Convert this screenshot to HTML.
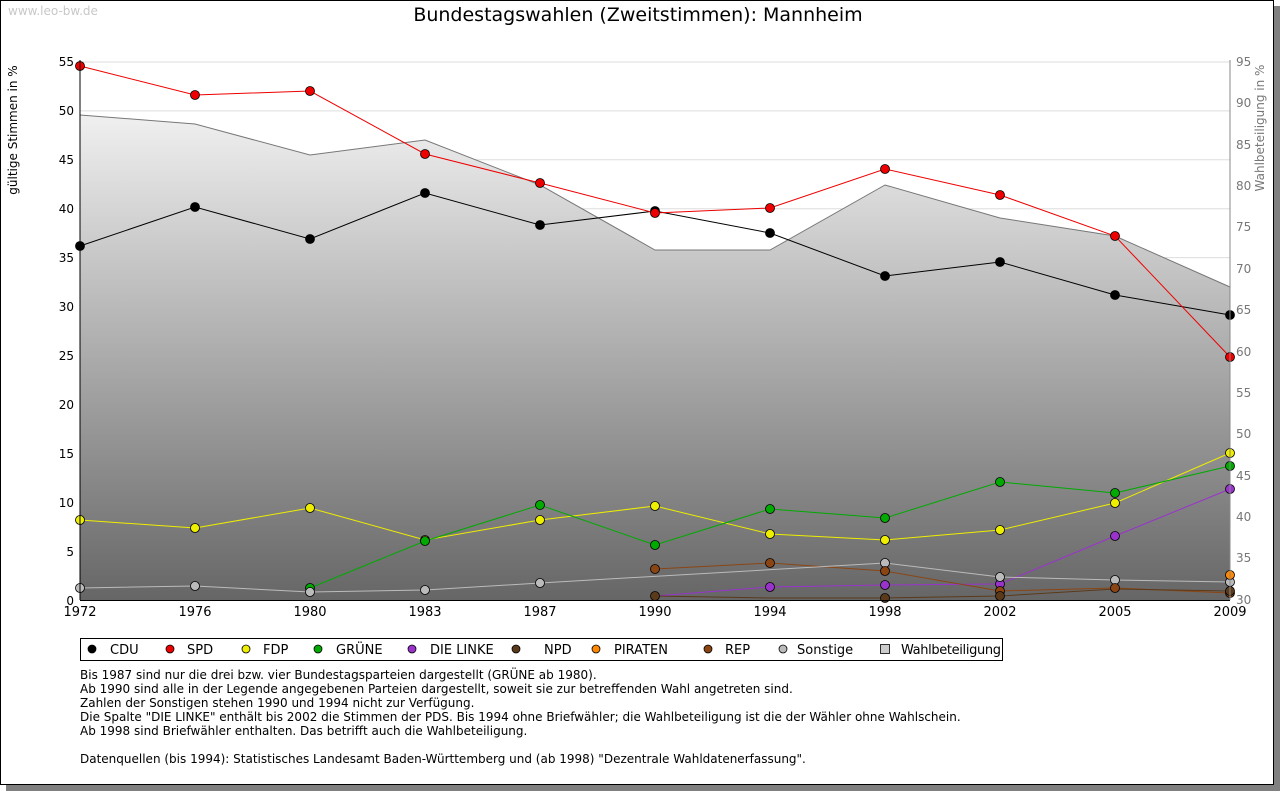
<!DOCTYPE html><html><head><meta charset="utf-8"><style>
body{margin:0;background:#fff;width:1280px;height:791px;overflow:hidden;font-family:"DejaVu Sans",sans-serif}
</style></head><body>
<svg width="1280" height="791" xmlns="http://www.w3.org/2000/svg" font-family="DejaVu Sans, sans-serif">
<defs><linearGradient id="g" x1="0" y1="62" x2="0" y2="600" gradientUnits="userSpaceOnUse"><stop offset="0" stop-color="#fff"/><stop offset="1" stop-color="#666"/></linearGradient></defs>
<rect x="6" y="6" width="1274" height="785" fill="#808080"/>
<rect x="0.5" y="0.5" width="1273" height="784" fill="#fff" stroke="#000"/>
<text x="8" y="15" font-size="12" fill="#c8c8c8">www.leo-bw.de</text>
<text x="638" y="21" font-size="19" text-anchor="middle">Bundestagswahlen (Zweitstimmen): Mannheim</text>
<g stroke="#ddd">
<line x1="80" y1="62" x2="1230" y2="62"/><line x1="80" y1="110.9" x2="1230" y2="110.9"/><line x1="80" y1="159.8" x2="1230" y2="159.8"/><line x1="80" y1="208.7" x2="1230" y2="208.7"/><line x1="80" y1="257.6" x2="1230" y2="257.6"/>
</g>
<polygon points="80,600 80,115 195,124 310,155 425,140 540,185 655,250 770,250 885,185 1000,218 1115,236 1230,287 1230,600" fill="url(#g)"/>
<polyline points="80,115 195,124 310,155 425,140 540,185 655,250 770,250 885,185 1000,218 1115,236 1230,287" fill="none" stroke="#777"/>
<g fill="none" stroke-width="1">
<polyline stroke="#000" points="80,246 195,207 310,239 425,193 540,225 655,211 770,233 885,276 1000,262 1115,295 1230,315"/>
<polyline stroke="#e00" points="80,66 195,95 310,91 425,154 540,183 655,213 770,208 885,169 1000,195 1115,236 1230,357"/>
<polyline stroke="#ee0" points="80,520 195,528 310,508 425,540 540,520 655,506 770,534 885,540 1000,530 1115,503 1230,453"/>
<polyline stroke="#0a0" points="310,588 425,541 540,505 655,545 770,509 885,518 1000,482 1115,493 1230,466"/>
<polyline stroke="#93c" points="655,596 770,587 885,585 1000,584 1115,536 1230,489"/>
<polyline stroke="#8b4513" points="655,569 770,563 885,571 1000,591 1115,588 1230,593"/>
<polyline stroke="#5a3a1a" points="655,596 770,598 885,598 1000,596 1115,589 1230,591"/>
<polyline stroke="#bbb" points="80,588 195,586 310,592 425,590 540,583 885,563 1000,577 1115,580 1230,582"/>
</g>
<g stroke="#000" stroke-width="0.8">
<g fill="#000"><circle cx="80" cy="246" r="4.5"/><circle cx="195" cy="207" r="4.5"/><circle cx="310" cy="239" r="4.5"/><circle cx="425" cy="193" r="4.5"/><circle cx="540" cy="225" r="4.5"/><circle cx="655" cy="211" r="4.5"/><circle cx="770" cy="233" r="4.5"/><circle cx="885" cy="276" r="4.5"/><circle cx="1000" cy="262" r="4.5"/><circle cx="1115" cy="295" r="4.5"/><circle cx="1230" cy="315" r="4.5"/></g>
<g fill="#e00"><circle cx="80" cy="66" r="4.5"/><circle cx="195" cy="95" r="4.5"/><circle cx="310" cy="91" r="4.5"/><circle cx="425" cy="154" r="4.5"/><circle cx="540" cy="183" r="4.5"/><circle cx="655" cy="213" r="4.5"/><circle cx="770" cy="208" r="4.5"/><circle cx="885" cy="169" r="4.5"/><circle cx="1000" cy="195" r="4.5"/><circle cx="1115" cy="236" r="4.5"/><circle cx="1230" cy="357" r="4.5"/></g>
<g fill="#ee0"><circle cx="80" cy="520" r="4.5"/><circle cx="195" cy="528" r="4.5"/><circle cx="310" cy="508" r="4.5"/><circle cx="425" cy="540" r="4.5"/><circle cx="540" cy="520" r="4.5"/><circle cx="655" cy="506" r="4.5"/><circle cx="770" cy="534" r="4.5"/><circle cx="885" cy="540" r="4.5"/><circle cx="1000" cy="530" r="4.5"/><circle cx="1115" cy="503" r="4.5"/><circle cx="1230" cy="453" r="4.5"/></g>
<g fill="#0a0"><circle cx="310" cy="588" r="4.5"/><circle cx="425" cy="541" r="4.5"/><circle cx="540" cy="505" r="4.5"/><circle cx="655" cy="545" r="4.5"/><circle cx="770" cy="509" r="4.5"/><circle cx="885" cy="518" r="4.5"/><circle cx="1000" cy="482" r="4.5"/><circle cx="1115" cy="493" r="4.5"/><circle cx="1230" cy="466" r="4.5"/></g>
<g fill="#93c"><circle cx="770" cy="587" r="4.5"/><circle cx="885" cy="585" r="4.5"/><circle cx="1000" cy="584" r="4.5"/><circle cx="1115" cy="536" r="4.5"/><circle cx="1230" cy="489" r="4.5"/></g>
<g fill="#bbb"><circle cx="80" cy="588" r="4.5"/><circle cx="195" cy="586" r="4.5"/><circle cx="310" cy="592" r="4.5"/><circle cx="425" cy="590" r="4.5"/><circle cx="540" cy="583" r="4.5"/><circle cx="885" cy="563" r="4.5"/><circle cx="1000" cy="577" r="4.5"/><circle cx="1115" cy="580" r="4.5"/><circle cx="1230" cy="582" r="4.5"/></g>
<g fill="#8b4513"><circle cx="655" cy="569" r="4.5"/><circle cx="770" cy="563" r="4.5"/><circle cx="885" cy="571" r="4.5"/><circle cx="1000" cy="591" r="4.5"/><circle cx="1115" cy="588" r="4.5"/><circle cx="1230" cy="593" r="4.5"/></g>
<g fill="#5a3a1a"><circle cx="655" cy="596" r="4.5"/><circle cx="885" cy="598" r="4.5"/><circle cx="1000" cy="596" r="4.5"/><circle cx="1230" cy="591" r="4.5"/></g>
<circle fill="#f80" cx="1230" cy="575" r="4.5"/>
</g>
<g stroke="#000"><line x1="80" y1="60" x2="80" y2="600"/><line x1="80" y1="600.5" x2="1230" y2="600.5"/></g>
<line x1="1230" y1="60" x2="1230" y2="600" stroke="#888"/>
<g font-size="12" text-anchor="end">
<text x="74" y="66">55</text><text x="74" y="115">50</text><text x="74" y="164">45</text><text x="74" y="213">40</text><text x="74" y="262">35</text><text x="74" y="311">30</text><text x="74" y="360">25</text><text x="74" y="409">20</text><text x="74" y="458">15</text><text x="74" y="507">10</text><text x="74" y="556">5</text><text x="74" y="605">0</text>
</g>
<g font-size="12" fill="#777">
<text x="1236" y="66">95</text><text x="1236" y="107">90</text><text x="1236" y="149">85</text><text x="1236" y="190">80</text><text x="1236" y="231">75</text><text x="1236" y="273">70</text><text x="1236" y="314">65</text><text x="1236" y="356">60</text><text x="1236" y="397">55</text><text x="1236" y="438">50</text><text x="1236" y="480">45</text><text x="1236" y="521">40</text><text x="1236" y="562">35</text><text x="1236" y="604">30</text>
</g>
<g font-size="13" text-anchor="middle">
<text x="80" y="616">1972</text><text x="195" y="616">1976</text><text x="310" y="616">1980</text><text x="425" y="616">1983</text><text x="540" y="616">1987</text><text x="655" y="616">1990</text><text x="770" y="616">1994</text><text x="885" y="616">1998</text><text x="1000" y="616">2002</text><text x="1115" y="616">2005</text><text x="1230" y="616">2009</text>
</g>
<text transform="translate(17,130) rotate(-90)" font-size="12" text-anchor="middle">gültige Stimmen in %</text>
<text transform="translate(1264,128) rotate(-90)" font-size="12" text-anchor="middle" fill="#777">Wahlbeteiligung in %</text>
<rect x="80.5" y="638.5" width="922" height="22" fill="#fff" stroke="#000"/>
<g stroke="#000" stroke-width="0.8">
<circle fill="#000" cx="92" cy="649" r="4"/><circle fill="#e00" cx="170" cy="649" r="4"/><circle fill="#ee0" cx="246" cy="649" r="4"/><circle fill="#0a0" cx="318" cy="649" r="4"/><circle fill="#93c" cx="412" cy="649" r="4"/><circle fill="#5a3a1a" cx="516" cy="649" r="4"/><circle fill="#f80" cx="596" cy="649" r="4"/><circle fill="#8b4513" cx="708" cy="649" r="4"/><circle fill="#bbb" cx="783" cy="649" r="4"/><rect x="880.5" y="644.5" width="9" height="9" fill="#ccc"/>
</g>
<g font-size="13">
<text x="110" y="654">CDU</text><text x="187" y="654">SPD</text><text x="263" y="654">FDP</text><text x="336" y="654">GRÜNE</text><text x="430" y="654">DIE LINKE</text><text x="544" y="654">NPD</text><text x="614" y="654">PIRATEN</text><text x="725" y="654">REP</text><text x="797" y="654">Sonstige</text><text x="901" y="654" textLength="100">Wahlbeteiligung</text>
</g>
<g font-size="12">
<text x="80" y="679">Bis 1987 sind nur die drei bzw. vier Bundestagsparteien dargestellt (GRÜNE ab 1980).</text>
<text x="80" y="693">Ab 1990 sind alle in der Legende angegebenen Parteien dargestellt, soweit sie zur betreffenden Wahl angetreten sind.</text>
<text x="80" y="707">Zahlen der Sonstigen stehen 1990 und 1994 nicht zur Verfügung.</text>
<text x="80" y="721">Die Spalte "DIE LINKE" enthält bis 2002 die Stimmen der PDS. Bis 1994 ohne Briefwähler; die Wahlbeteiligung ist die der Wähler ohne Wahlschein.</text>
<text x="80" y="735">Ab 1998 sind Briefwähler enthalten. Das betrifft auch die Wahlbeteiligung.</text>
<text x="80" y="763">Datenquellen (bis 1994): Statistisches Landesamt Baden-Württemberg und (ab 1998) "Dezentrale Wahldatenerfassung".</text>
</g>
</svg>
</body></html>
